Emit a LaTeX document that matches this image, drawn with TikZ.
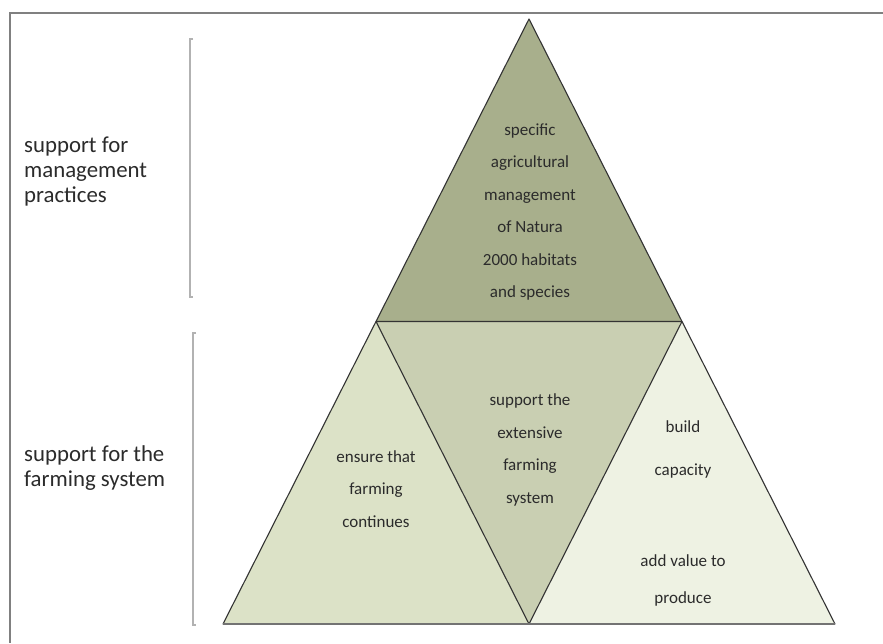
\documentclass[tikz,border=0pt]{standalone}
\usepackage{fontspec}
\setmainfont{Carlito}
\definecolor{topc}{HTML}{A8AF8C}
\definecolor{midc}{HTML}{C9CFB2}
\definecolor{leftc}{HTML}{DCE2C7}
\definecolor{rightc}{HTML}{EEF2E3}
\definecolor{txt}{HTML}{2B2B2B}
\begin{document}
\begin{tikzpicture}[x=1pt,y=-1pt,
  tri/.style={draw=black!80, line width=1.1pt, line join=round},
  brk/.style={draw=black!30, line width=2pt},
  sidelabel/.style={anchor=north west, align=left, font=\fontsize{22.8}{25}\selectfont, text=txt, inner sep=0pt},
  intext/.style={align=center, font=\fontsize{17}{32.5}\selectfont, text=txt, inner sep=0pt}]
\useasboundingbox (0,0) rectangle (883,643);
\fill[white] (0,0) rectangle (883,643);
\draw[draw=black!50, line width=2pt] (883,13) -- (10,13) -- (10,643);
% vertices
\coordinate (A) at (529,19);
\coordinate (L) at (376,321.5);
\coordinate (R) at (682,321.5);
\coordinate (BL) at (223,624);
\coordinate (BM) at (529,624);
\coordinate (BR) at (835,624);
\fill[topc] (A) -- (L) -- (R) -- cycle;
\fill[midc] (L) -- (R) -- (BM) -- cycle;
\fill[leftc] (L) -- (BL) -- (BM) -- cycle;
\fill[rightc] (R) -- (BM) -- (BR) -- cycle;
\draw[tri] (A) -- (BL) -- (BR) -- cycle;
\draw[tri] (L) -- (R) -- (BM) -- cycle;
\draw[draw=black!55, line width=1.6pt] (BL) -- (BR);
% brackets
\draw[brk] (193,39) -- (190,39) -- (190,297) -- (193,297);
\draw[brk] (196,333) -- (193,333) -- (193,625) -- (196,625);
% side labels
\node[sidelabel] (lab1) at (24,137) {support for\\management\\practices};
\node[sidelabel] (lab2) at (24,445) {support for the\\farming system};
% triangle texts
\node[intext] (ttop) at (530,212) {specific\\agricultural\\management\\of Natura\\2000 habitats\\and species};
\node[intext] (tmid) at (530,450) {support the\\extensive\\farming\\system};
\node[intext] (tleft) at (376,489) {ensure that\\farming\\continues};
\node[intext, font=\fontsize{17}{43}\selectfont] (tr1) at (683,449) {build\\capacity};
\node[intext, font=\fontsize{17}{37}\selectfont] (tr2) at (683,580) {add value to\\produce};
\end{tikzpicture}
\end{document}
